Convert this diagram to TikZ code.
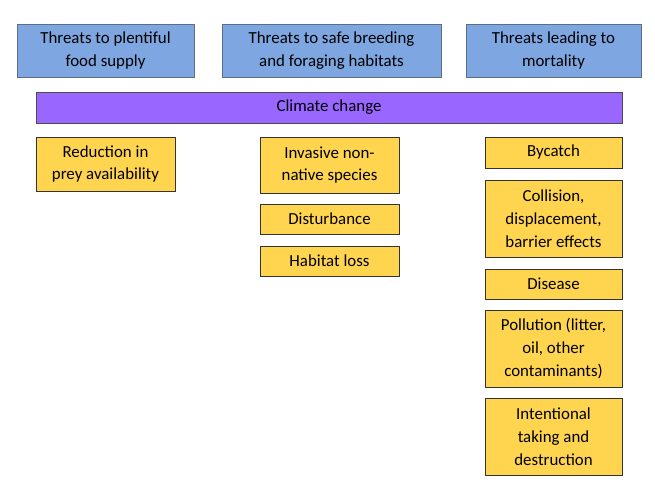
\documentclass[tikz,border=0pt]{standalone}
\usepackage{fontspec}
\setmainfont{Carlito}
\usetikzlibrary{positioning}
\definecolor{headblue}{HTML}{7EA6E0}
\definecolor{headline}{HTML}{5A6E8C}
\definecolor{climate}{HTML}{9966FF}
\definecolor{threat}{HTML}{FFD54F}
\begin{document}
\begin{tikzpicture}[x=0.02cm,y=-0.02cm,
  head/.style={shape=rectangle,draw=headline,fill=headblue,align=center,inner sep=0pt},
  threat/.style={shape=rectangle,draw=black!80,fill=threat,align=center,inner sep=0pt},
  box/.style args={#1x#2}{minimum width=#1*0.02cm,minimum height=#2*0.02cm}]
  \useasboundingbox (0,0) rectangle (655,492);
  \fontsize{9.6pt}{13pt}\selectfont
  %\draw[help lines] (0,0) grid (655,492); % Only for Development

  \node[head,box=177x53] (food) at (105.5,50.5) {Threats to plentiful\\food supply};
  \node[head,box=219x53] (habitat) at (331.5,50.5) {Threats to safe breeding\\and foraging habitats};
  \node[head,box=175x53] (mortality) at (553.5,50.5) {Threats leading to\\mortality};

  \node[shape=rectangle,draw=black!70,fill=climate,box=586x31] (climate) at (329,107.5) {Climate change};

  \node[threat,box=139x54] (prey) at (105.5,164) {Reduction in\\prey availability};

  \node[threat,box=139x56] (invasive) at (329.5,165) {Invasive non-\\native species};
  \node[threat,box=139x30] (disturb) at (329.5,219) {Disturbance};
  \node[threat,box=139x30] (loss) at (329.5,261) {Habitat loss};

  \node[threat,box=137x31] (bycatch) at (553.5,152.5) {Bycatch};
  \node[threat,box=137x77] (collision) at (553.5,218.5) {Collision,\\displacement,\\barrier effects};
  \node[threat,box=137x30] (disease) at (553.5,284) {Disease};
  \node[threat,box=137x77] (pollution) at (553.5,348.5) {Pollution (litter,\\oil, other\\contaminants)};
  \node[threat,box=137x77] (taking) at (553.5,436.5) {Intentional\\taking and\\destruction};
\end{tikzpicture}
\end{document}
